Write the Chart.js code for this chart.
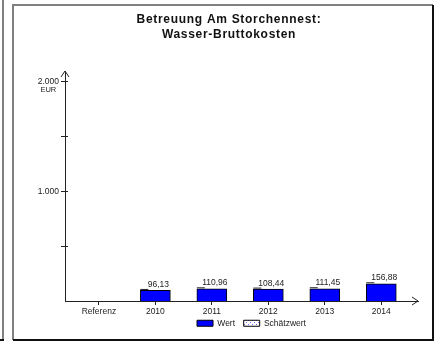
<!DOCTYPE html>
<html>
<head>
<meta charset="utf-8">
<script src="https://cdn.jsdelivr.net/npm/chart.js@4/dist/chart.umd.min.js"></script>
<style>
  html, body { margin: 0; padding: 0; background: #fff; }
  canvas { display: block; }
</style>
</head>
<body>
<canvas id="costChart" width="440" height="343"></canvas>
<script>
// chart data
const titleLines = ['Betreuung Am Storchennest:', 'Wasser-Bruttokosten'];
const categories = ['Referenz', '2010', '2011', '2012', '2013', '2014'];
const seriesNames = ['Wert', 'Schätzwert'];
const wertValues = [null, 96.13, 110.96, 108.44, 111.45, 156.88];
const schaetzwertValues = [null, null, null, null, null, null];
const yTickValues = [500, 1000, 1500, 2000];
const yTickLabels = ['', '1.000', '', '2.000'];
const yUnit = 'EUR';

const FONT = "'Liberation Sans', Arial, sans-serif";
Chart.defaults.font.family = FONT;

const ctx = document.getElementById('costChart').getContext('2d');

// hatched fill for the estimate series (legend only)
const pc = document.createElement('canvas');
pc.width = 4; pc.height = 4;
const pctx = pc.getContext('2d');
pctx.fillStyle = '#ffffff';
pctx.fillRect(0, 0, 4, 4);
pctx.fillStyle = '#6f6fff';
pctx.fillRect(0, 0, 1, 1);
pctx.fillRect(2, 2, 1, 1);
const estimatePattern = ctx.createPattern(pc, 'repeat');

const fmt = (v) => v.toFixed(2).replace('.', ',');

// frame around the panel + title
const framePlugin = {
    id: 'frame',
    afterLayout(chart) {
        // legend sits a bit right of the plot centre
        chart.legend.left += 10;
        chart.legend.right += 10;
    },
    beforeDraw(chart) {
        const c = chart.ctx;
        c.save();
        c.lineWidth = 2;
        c.strokeStyle = '#808080';
        c.beginPath();
        c.moveTo(3, 0); c.lineTo(3, 340);
        c.moveTo(13, 340); c.lineTo(13, 5); c.lineTo(433, 5);
        c.stroke();
        c.strokeStyle = '#111';
        c.beginPath();
        c.moveTo(433, 5); c.lineTo(433, 340); c.lineTo(13, 340);
        c.moveTo(0, 340); c.lineTo(4, 340);
        c.stroke();

        c.fillStyle = '#111';
        c.font = 'bold 12px ' + FONT;
        c.letterSpacing = '0.7px';
        c.textAlign = 'center';
        c.textBaseline = 'middle';
        titleLines.forEach((t, i) => c.fillText(t, 229, 19.5 + i * 15));
        c.restore();
    }
};

// arrows, y tick marks, unit, value labels
const decorPlugin = {
    id: 'decor',
    afterDatasetsDraw(chart) {
        const c = chart.ctx;
        const a = chart.chartArea;
        const y = chart.scales.y;
        c.save();
        c.strokeStyle = '#222';
        c.lineWidth = 1;
        c.beginPath();
        // y arrow
        c.moveTo(a.left - 4, a.top + 6); c.lineTo(a.left, a.top); c.lineTo(a.left + 4, a.top + 6);
        // x arrow
        c.moveTo(a.right - 6, a.bottom - 4); c.lineTo(a.right, a.bottom); c.lineTo(a.right - 6, a.bottom + 4);
        // y ticks
        yTickValues.forEach(v => {
            const py = Math.round(y.getPixelForValue(v)) + 0.5;
            c.moveTo(a.left - 4, py); c.lineTo(a.left + 3, py);
        });
        c.stroke();

        // unit under the top label
        c.fillStyle = '#222';
        c.textAlign = 'center';
        c.textBaseline = 'middle';
        c.font = '8.5px ' + FONT;
        const w = c.measureText(yTickLabels[3]).width;
        c.font = '7.5px ' + FONT;
        c.fillText(yUnit, a.left - 6 - w / 2, y.getPixelForValue(2000) + 8.5);

        // value labels and small depth edge
        const meta = chart.getDatasetMeta(0);
        c.font = '8.5px ' + FONT;
        c.textBaseline = 'bottom';
        meta.data.forEach((bar, i) => {
            if (wertValues[i] == null) return;
            const left = bar.x - bar.width / 2;
            c.beginPath();
            c.moveTo(left, bar.y - 1); c.lineTo(left + 8, bar.y - 1);
            c.stroke();
            c.fillText(fmt(wertValues[i]), bar.x + 3, bar.y - 1.5);
        });
        c.restore();
    }
};

const baseLabels = Chart.defaults.plugins.legend.labels.generateLabels;

new Chart(ctx, {
    type: 'bar',
    data: {
        datasets: [
            {
                label: seriesNames[0],
                data: wertValues.map((v, i) => ({ x: i, y: v })),
                backgroundColor: '#0000ff',
                borderColor: '#000',
                borderWidth: 1,
                barThickness: 30
            },
            {
                label: seriesNames[1],
                data: schaetzwertValues.map((v, i) => ({ x: i, y: v })),
                backgroundColor: estimatePattern,
                borderColor: '#000',
                borderWidth: 1,
                barThickness: 30,
                grouped: false
            }
        ]
    },
    options: {
        responsive: false,
        animation: false,
        layout: { padding: { left: 13, right: 22, top: 71, bottom: 5.5 } },
        plugins: {
            title: { display: false },
            legend: {
                position: 'bottom',
                fullSize: false,
                labels: {
                    boxWidth: 16,
                    boxHeight: 6,
                    padding: 2,
                    color: '#222',
                    font: { size: 8.5 },
                    // widen the gap after the first entry
                    generateLabels: (chart) => baseLabels(chart).map((l, i) =>
                        i === 0 ? { ...l, text: l.text + ' \u2002' } : l)
                }
            },
            tooltip: { enabled: false }
        },
        scales: {
            x: {
                type: 'linear',
                offset: false,
                min: -0.6,
                max: 5.65,
                afterBuildTicks: (scale) => {
                    scale.ticks = categories.map((c, i) => ({ value: i }));
                },
                afterFit: (scale) => { scale.height = 16; },
                ticks: {
                    callback: (v) => categories[v],
                    autoSkip: false,
                    maxRotation: 0,
                    padding: 2,
                    color: '#222',
                    font: { size: 8.5 }
                },
                grid: {
                    offset: false,
                    drawOnChartArea: false,
                    tickLength: 4,
                    color: '#222'
                },
                border: { color: '#222', width: 1 }
            },
            y: {
                min: 0,
                max: 2095,
                afterBuildTicks: (scale) => {
                    scale.ticks = yTickValues.map(v => ({ value: v }));
                },
                afterFit: (scale) => { scale.width = 52; },
                ticks: {
                    callback: (v) => yTickLabels[yTickValues.indexOf(v)],
                    padding: 6,
                    color: '#222',
                    font: { size: 8.5 }
                },
                grid: { drawOnChartArea: false, drawTicks: false },
                border: { color: '#222', width: 1 }
            }
        }
    },
    plugins: [framePlugin, decorPlugin]
});
</script>
</body>
</html>
